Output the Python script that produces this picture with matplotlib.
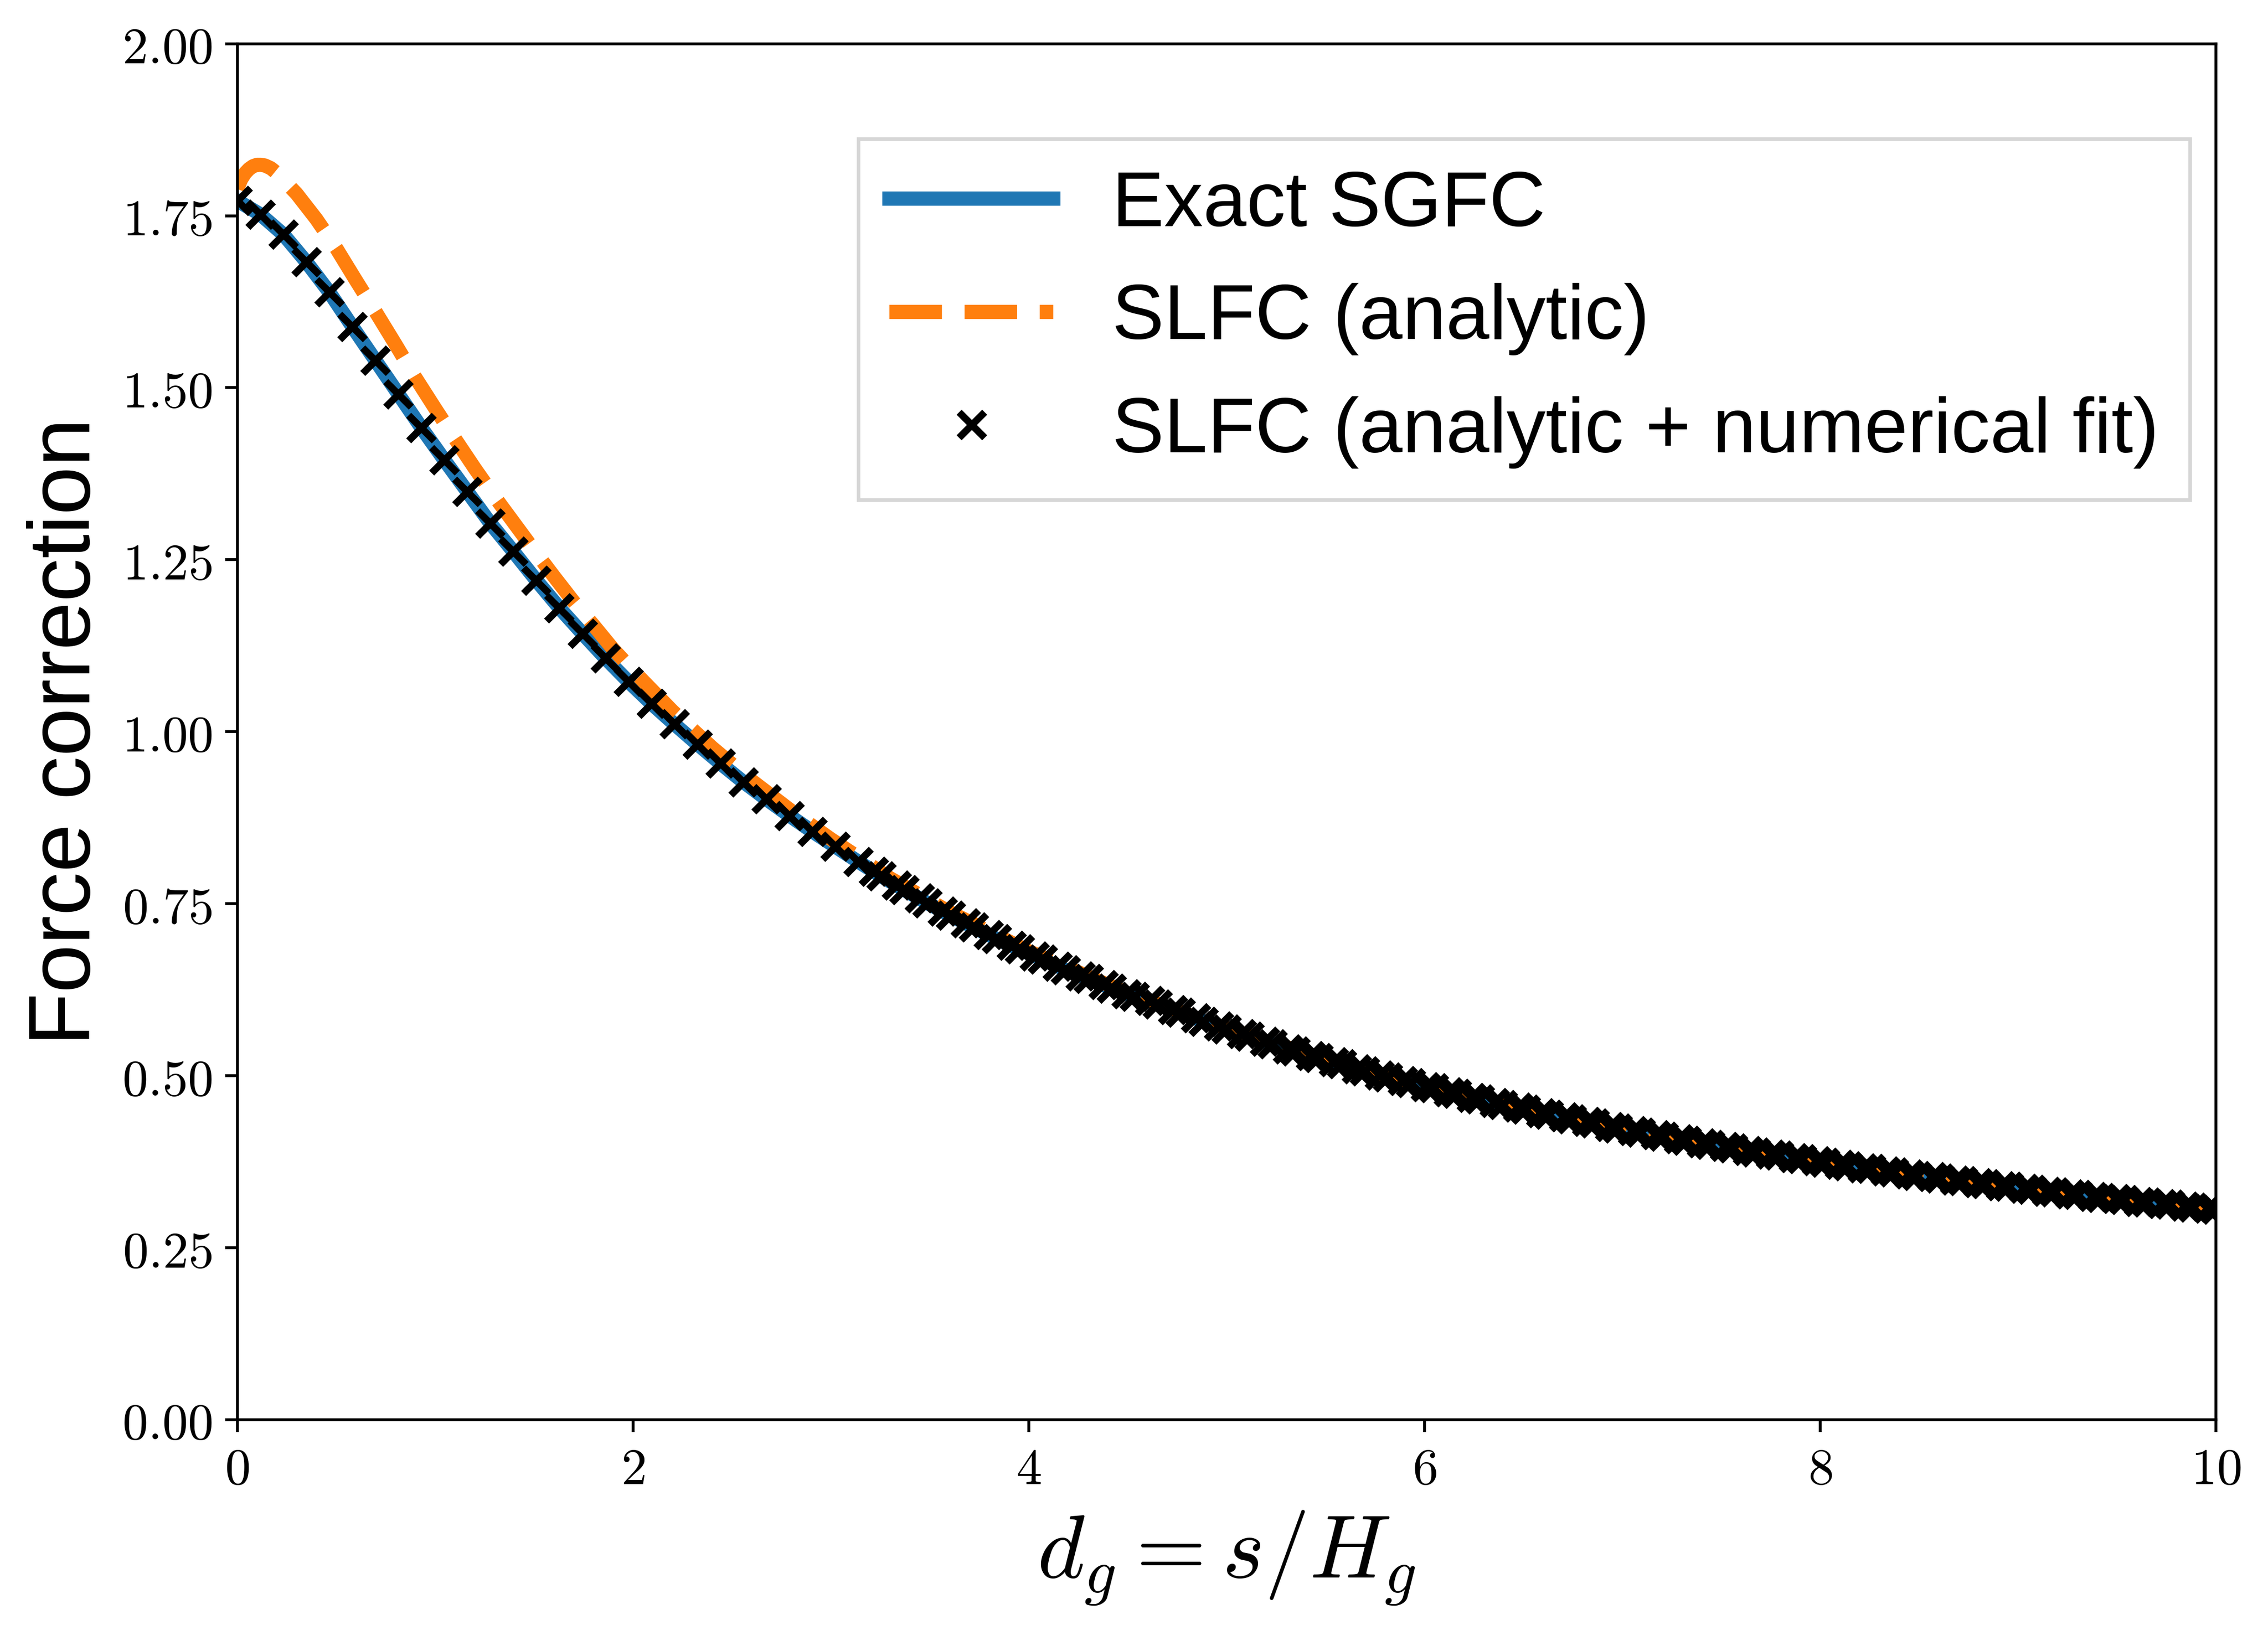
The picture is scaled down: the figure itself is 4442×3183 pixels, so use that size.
import matplotlib
matplotlib.use('Agg')
import matplotlib.pyplot as plt
import numpy as np

plt.rcParams['mathtext.fontset'] = 'cm'

# sample positions of the exact curve / fit markers (uniform grid, 87 points)
fit_x = np.linspace(0, 10, 87)

# Exact SGFC at fit_x
sgfc_y = [1.772, 1.752, 1.723, 1.683, 1.639, 1.589, 1.540, 1.491, 1.442, 1.395,
          1.349, 1.303, 1.262, 1.220, 1.180, 1.143, 1.107, 1.073, 1.041, 1.011,
          0.982, 0.954, 0.927, 0.902, 0.878, 0.855, 0.833, 0.811, 0.790, 0.770,
          0.751, 0.733, 0.716, 0.699, 0.684, 0.669, 0.654, 0.641, 0.627, 0.615,
          0.604, 0.592, 0.579, 0.568, 0.557, 0.546, 0.536, 0.526, 0.517, 0.507,
          0.498, 0.490, 0.482, 0.474, 0.466, 0.458, 0.451, 0.444, 0.437, 0.431,
          0.424, 0.418, 0.412, 0.406, 0.400, 0.395, 0.389, 0.384, 0.379, 0.374,
          0.369, 0.365, 0.360, 0.355, 0.351, 0.347, 0.343, 0.339, 0.335, 0.331,
          0.327, 0.323, 0.320, 0.316, 0.313, 0.309, 0.306]

# SLFC (analytic)
slfc_x = [0.0, 0.02, 0.04, 0.06, 0.08, 0.10, 0.12, 0.14, 0.17, 0.20, 0.25, 0.30,
          0.40, 0.50, 0.60, 0.70, 0.80, 0.90, 1.0, 1.1, 1.2, 1.3, 1.4, 1.5, 1.6,
          1.7, 1.8, 1.9, 2.0, 2.2, 2.4, 2.6, 2.8, 3.0, 3.3, 3.6, 4.0, 4.5, 5.0,
          5.5, 6.0, 6.5, 7.0, 7.5, 8.0, 8.5, 9.0, 9.5, 10.0]
slfc_y = [1.789, 1.803, 1.812, 1.818, 1.822, 1.824, 1.824, 1.823, 1.819, 1.812,
          1.797, 1.782, 1.745, 1.703, 1.656, 1.610, 1.563, 1.515, 1.470, 1.426,
          1.383, 1.342, 1.303, 1.264, 1.226, 1.189, 1.155, 1.120, 1.089, 1.030,
          0.977, 0.929, 0.885, 0.844, 0.787, 0.738, 0.681, 0.620, 0.569, 0.524,
          0.485, 0.452, 0.423, 0.398, 0.375, 0.355, 0.337, 0.321, 0.306]

# SLFC (analytic + numerical fit): first marker set lies on the exact curve,
# a second set (from d_g ~ 3.2 on) is shifted slightly to the left
fit_y_a = sgfc_y
fit_x_b = fit_x[28:] - 0.04
fit_y_b = [0.797, 0.777, 0.758, 0.739, 0.722, 0.705, 0.689, 0.674, 0.659, 0.645,
           0.632, 0.619, 0.609, 0.596, 0.584, 0.572, 0.561, 0.550, 0.539, 0.529,
           0.520, 0.510, 0.501, 0.493, 0.484, 0.476, 0.468, 0.461, 0.454, 0.446,
           0.440, 0.433, 0.426, 0.420, 0.414, 0.408, 0.402, 0.397, 0.391, 0.386,
           0.381, 0.376, 0.371, 0.366, 0.361, 0.357, 0.353, 0.348, 0.344, 0.340,
           0.336, 0.332, 0.328, 0.324, 0.321, 0.317, 0.314, 0.310, 0.307]

xticks = [0, 2, 4, 6, 8, 10]
yticks = [0.0, 0.25, 0.5, 0.75, 1.0, 1.25, 1.5, 1.75, 2.0]

fig = plt.figure(figsize=(8.884, 6.366), dpi=500)
ax = fig.add_axes([0.1046, 0.1263, 0.8724, 0.8468])

ax.plot(fit_x, sgfc_y, color='#1f77b4', lw=4, label='Exact SGFC')
ax.plot(slfc_x, slfc_y, color='#ff7f0e', lw=4, ls='--', label='SLFC (analytic)')
ax.scatter(fit_x, fit_y_a, marker='x', s=52, linewidths=2.0, color='k', zorder=3,
           label='SLFC (analytic + numerical fit)')
ax.scatter(fit_x_b, fit_y_b, marker='x', s=52, linewidths=2.0, color='k', zorder=3)

ax.set_xlim(0, 10)
ax.set_ylim(0, 2)
ax.set_xticks(xticks)
ax.set_xticklabels([rf'${t}$' for t in xticks])
ax.set_yticks(yticks)
ax.set_yticklabels([rf'${t:.2f}$' for t in yticks])
ax.tick_params(labelsize=14.5)

ax.set_xlabel(r'$d_g = s/H_g$', fontsize=25.5)
ax.set_ylabel('Force correction', fontsize=24.5, family='Liberation Sans')

ax.legend(loc='upper right', bbox_to_anchor=(0.987, 0.931), borderaxespad=0,
          prop={'family': 'Liberation Sans', 'size': 22}, fancybox=False,
          handlelength=2.1, handletextpad=0.75, labelspacing=0.52,
          scatteryoffsets=[0.5])

fig.savefig('out.png', dpi=500)
